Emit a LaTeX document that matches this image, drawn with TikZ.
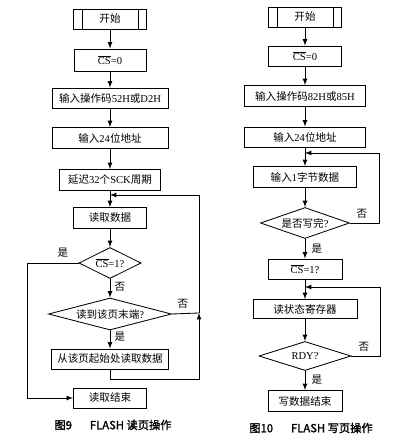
\documentclass[tikz,border=0pt]{standalone}
\usepackage{fontspec}
\setmainfont{Liberation Serif}
\newfontfamily\zh{Noto Sans CJK SC}
\newfontfamily\zhb[FakeBold=1.5]{Noto Sans CJK SC}
\usetikzlibrary{shapes.geometric}
\newcommand{\px}{0.025cm}
\newcommand{\ncs}{$\overline{\mbox{CS}}$}

\begin{document}
\begin{tikzpicture}[x=0.025cm, y=-0.025cm, >=latex, line width=0.6pt,
	box/.style={draw, inner sep=0pt, minimum height=20*\px, font=\fontsize{7.5}{9}\selectfont},
	dec/.style={draw, diamond, inner sep=0pt, font=\fontsize{7.5}{9}\selectfont},
	lbl/.style={inner sep=0pt, font=\zh\fontsize{7.5}{9}\selectfont},
	figcap/.style={inner sep=0pt, font=\zhb\fontsize{8}{10}\selectfont}]
	\useasboundingbox (0,0) rectangle (400,440);

	\node[box, minimum width=73*\px] (sa) at (110,19) {\zh 开始};
	\node[box, minimum width=72*\px, minimum height=22*\px] (ca) at (110,60) {\ncs=0};
	\node[box, minimum width=116*\px] (oa) at (110,98) {{\zh 输入操作码}52H{\zh 或}D2H};
	\node[box, minimum width=116*\px, minimum height=21*\px] (aa) at (110,138) {{\zh 输入}24{\zh 位地址}};
	\node[box, minimum width=101*\px, minimum height=21*\px] (da) at (110,180) {{\zh 延迟}32{\zh 个}SCK{\zh 周期}};
	\node[box, minimum width=73*\px, minimum height=21*\px] (ra) at (110,218) {\zh 读取数据};
	\node[dec, aspect=2, minimum width=62*\px, minimum height=31*\px] (d1) at (110,263) {\ncs=1?};
	\node[dec, aspect=3.8, minimum width=123*\px, minimum height=32*\px] (d2) at (110,314) {{\zh 读到该页末端}?};
	\node[box, minimum width=117*\px] (fa) at (110,359) {\zh 从该页起始处读取数据};
	\node[box, minimum width=73*\px] (ea) at (110,398) {\zh 读取结束};
	\node[figcap] (pa) at (113,425) {图9\hspace{1.6em}FLASH 读页操作};

	\node[box, minimum width=73*\px] (sb) at (305,17) {\zh 开始};
	\node[box, minimum width=73*\px] (cb) at (305,56) {\ncs=0};
	\node[box, minimum width=121*\px, minimum height=21*\px] (ob) at (305,96) {{\zh 输入操作码}82H{\zh 或}85H};
	\node[box, minimum width=121*\px] (ab) at (305,137) {{\zh 输入}24{\zh 位地址}};
	\node[box, minimum width=103*\px, minimum height=21*\px] (bb) at (305,177) {{\zh 输入}1{\zh 字节数据}};
	\node[dec, aspect=2.9, minimum width=89*\px, minimum height=31*\px] (wd) at (305,223) {{\zh 是否写完}?};
	\node[box, minimum width=74*\px] (eb) at (305,269) {\ncs=1?};
	\node[box, minimum width=104*\px, minimum height=19*\px] (rb) at (305,309) {\zh 读状态寄存器};
	\node[dec, aspect=3.2, minimum width=92*\px, minimum height=29*\px] (rdy) at (305,356) {RDY?};
	\node[box, minimum width=74*\px, minimum height=21*\px] (wb) at (305,401) {\zh 写数据结束};
	\node[figcap] (pb) at (311,428) {图10\hspace{1.6em}FLASH 写页操作};

	\foreach \n in {sa,sb}{
		\draw ([xshift=9*\px]\n.north west) -- ([xshift=9*\px]\n.south west);
		\draw ([xshift=-9*\px]\n.north east) -- ([xshift=-9*\px]\n.south east);
	}

	\foreach \a/\b in {sa/ca,ca/oa,oa/aa,aa/da,da/ra,ra/d1,d1/d2,d2/fa,
		sb/cb,cb/ob,ob/ab,ab/bb,bb/wd,wd/eb,eb/rb,rb/rdy,rdy/wb}
		\draw[->] (\a) -- (\b);

	\coordinate (ja) at (110,195);
	\coordinate (ka) at (199,313);
	\coordinate (jb) at (305,153);
	\coordinate (kb) at (305,287);

	\draw[->] (d1.west) -- ++(-51,0) |- (ea.west);
	\draw (d2.east) -- (ka);
	\draw[->] (fa.south) -- ++(0,10) -| (ka);
	\draw[->] (ka) |- (ja);
	\draw[->] (wd.east) -- ++(29,0) |- (jb);
	\draw[->] (rdy.east) -- ++(29,0) |- (kb);

	\node[lbl] (ya) at (63,253) {是};
	\node[lbl] (na) at (120,287) {否};
	\node[lbl] (nb) at (183,304) {否};
	\node[lbl] (yb) at (120,337) {是};
	\node[lbl] (nc) at (362,214) {否};
	\node[lbl] (yc) at (317,249) {是};
	\node[lbl] (nd) at (364,347) {否};
	\node[lbl] (yd) at (317,380) {是};
\end{tikzpicture}
\end{document}
